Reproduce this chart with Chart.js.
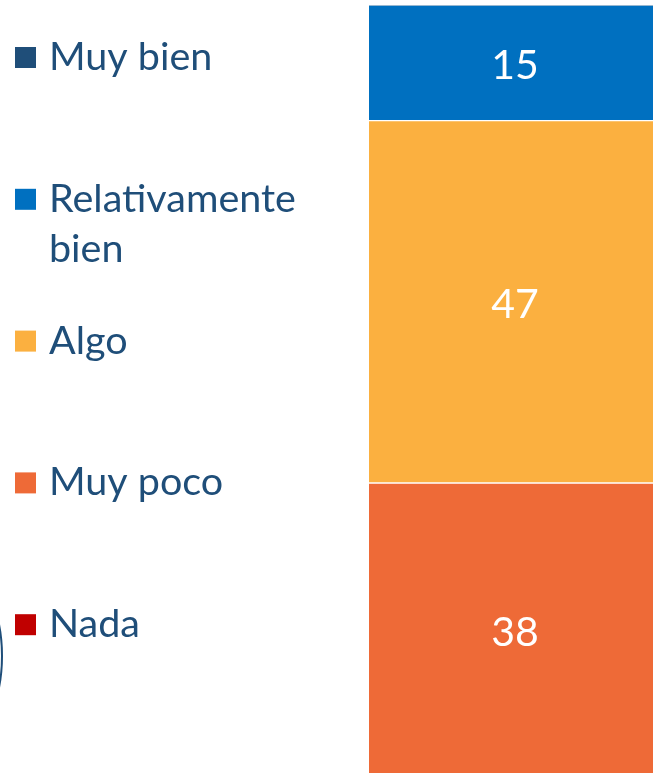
<!DOCTYPE html>
<html>
<head>
<meta charset="utf-8">
<script src="https://cdn.jsdelivr.net/npm/chart.js@4.4.1/dist/chart.umd.min.js"></script>
<style>
  html, body { margin: 0; padding: 0; background: #fff; overflow: hidden; }
  #wrap { width: 653px; height: 773px; overflow: hidden; position: relative; }
  #c { display: block; }
</style>
</head>
<body>
<div id="wrap"><canvas id="c" width="661" height="776"></canvas></div>
<script>
const categories = [''];
const seriesNames = ['Muy bien', 'Relativamente bien', 'Algo', 'Muy poco', 'Nada'];
const seriesValues = [0, 15, 47, 38, 0];
const seriesColors = ['#1F4E79', '#0070C0', '#FBB040', '#EE6A37', '#C00000'];

const FONT = 'Lato, "Open Sans", sans-serif';
const TEXT_COLOR = '#1F4E79';

const legendPlugin = {
  id: 'sideLegend',
  afterDraw(chart) {
    const ctx = chart.ctx;
    ctx.save();
    ctx.font = '39.5px ' + FONT;
    ctx.textBaseline = 'alphabetic';
    ctx.textAlign = 'left';
    const maxW = 290;
    chart.data.datasets.forEach((ds, i) => {
      const top = 47 + i * 141.8;
      ctx.fillStyle = ds.backgroundColor;
      ctx.fillRect(15, top, 21, 21);
      const words = ds.label.split(' ');
      const lines = [];
      let cur = '';
      words.forEach(w => {
        const t = cur ? cur + ' ' + w : w;
        if (ctx.measureText(t).width > maxW && cur) { lines.push(cur); cur = w; }
        else cur = t;
      });
      if (cur) lines.push(cur);
      ctx.fillStyle = TEXT_COLOR;
      lines.forEach((ln, k) => ctx.fillText(ln, 49, top + 23 + k * 50));
    });
    // decorative arc at left edge
    ctx.strokeStyle = '#1F4E79';
    ctx.lineWidth = 2;
    ctx.beginPath();
    ctx.ellipse(-60, 656, 62, 100, 0, -Math.PI / 2, Math.PI / 2);
    ctx.stroke();
    ctx.restore();
  }
};

const labelPlugin = {
  id: 'barLabels',
  afterDatasetsDraw(chart) {
    const ctx = chart.ctx;
    ctx.save();
    ctx.font = '41px ' + FONT;
    ctx.fillStyle = '#FFFFFF';
    ctx.textAlign = 'center';
    ctx.textBaseline = 'middle';
    chart.data.datasets.forEach((ds, i) => {
      const meta = chart.getDatasetMeta(i);
      meta.data.forEach((el, j) => {
        const v = ds.data[j];
        if (!v) return;
        const p = el.getProps(['x', 'y', 'base'], true);
        ctx.fillText(String(v), p.x, (p.y + p.base) / 2 + 3);
      });
    });
    ctx.restore();
  }
};

new Chart(document.getElementById('c'), {
  type: 'bar',
  data: {
    labels: categories,
    datasets: seriesNames.map((name, i) => ({
      label: name,
      data: [seriesValues[i]],
      backgroundColor: seriesColors[i],
      borderColor: '#FFFFFF',
      borderWidth: { top: 1, bottom: 1, left: 0, right: 0 },
      borderSkipped: false,
      barPercentage: 1,
      categoryPercentage: 1
    }))
  },
  options: {
    responsive: false,
    animation: false,
    layout: { padding: { left: 369, top: 5, right: 0, bottom: 0 } },
    plugins: { legend: { display: false }, tooltip: { enabled: false } },
    scales: {
      x: { stacked: true, display: false },
      y: { stacked: true, display: false, min: 0, max: 100, reverse: true }
    }
  },
  plugins: [legendPlugin, labelPlugin]
});
</script>
</body>
</html>
